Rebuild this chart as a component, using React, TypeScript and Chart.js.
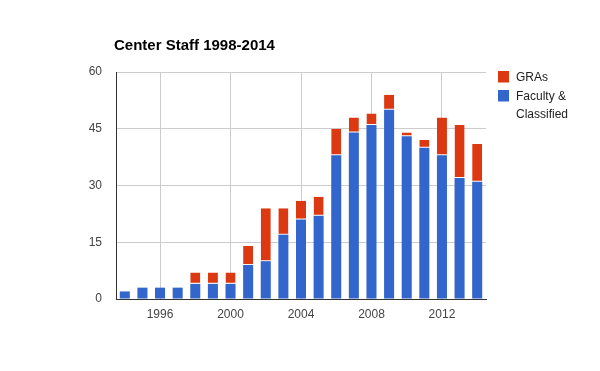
import React, { useEffect, useRef } from "react";
import { Chart, registerables } from "chart.js";

Chart.register(...registerables);

const years = [
  "1994", "1995", "1996", "1997", "1998", "1999", "2000", "2001", "2002", "2003", "2004",
  "2005", "2006", "2007", "2008", "2009", "2010", "2011", "2012", "2013", "2014",
];
const faculty = [2, 3, 3, 3, 4, 4, 4, 9, 10, 17, 21, 22, 38, 44, 46, 50, 43, 40, 38, 32, 31];
const gras = [0, 0, 0, 0, 3, 3, 3, 5, 14, 7, 5, 5, 7, 4, 3, 4, 1, 2, 10, 14, 10];
const shownYears = ["1996", "2000", "2004", "2008", "2012"];
const yTicks = [0, 15, 30, 45, 60];
const title = "Center Staff 1998-2014";
const legendItems = [
  { lines: ["GRAs"], color: "#dc3912" },
  { lines: ["Faculty &", "Classified"], color: "#3366cc" },
];

const FONT = '"Liberation Sans", Arial, sans-serif';

const overlayPlugin = {
  id: "overlay",
  afterDraw(chart: any) {
    const ctx = chart.ctx;
    ctx.save();
    ctx.fillStyle = "#000";
    ctx.font = `bold 15px ${FONT}`;
    ctx.textBaseline = "alphabetic";
    ctx.textAlign = "left";
    ctx.fillText(title, 114, 50);

    ctx.font = `12px ${FONT}`;
    let y = 71;
    legendItems.forEach((item) => {
      ctx.fillStyle = item.color;
      ctx.fillRect(498, y, 11, 11.5);
      ctx.fillStyle = "#222";
      item.lines.forEach((line, i) => {
        ctx.fillText(line, 516, y + 10.3 + i * 17.2);
      });
      y += 19;
    });
    ctx.restore();
  },
};

export default function App() {
  const ref = useRef<HTMLCanvasElement>(null);
  useEffect(() => {
    if (!ref.current) return;
    Chart.defaults.font.family = FONT;
    const chart = new Chart(ref.current, {
      type: "bar",
      data: {
        labels: years,
        datasets: [
          {
            label: "Faculty & Classified",
            data: faculty,
            backgroundColor: "#3366cc",
            borderWidth: 0,
            barPercentage: 0.57,
            categoryPercentage: 1,
          },
          {
            label: "GRAs",
            data: gras,
            backgroundColor: "#dc3912",
            borderColor: "#ffffff",
            borderWidth: { top: 0, left: 0, right: 0, bottom: 1 },
            borderSkipped: false,
            barPercentage: 0.57,
            categoryPercentage: 1,
          },
        ],
      },
      plugins: [overlayPlugin],
      options: {
        responsive: false,
        animation: false,
        events: [],
        layout: { padding: { top: 72, right: 114, left: 0, bottom: 0 } },
        plugins: {
          legend: { display: false },
          title: { display: false },
          tooltip: { enabled: false },
        },
        scales: {
          x: {
            stacked: true,
            offset: true,
            grid: {
              offset: false,
              drawTicks: false,
              color: (c: any) =>
                c.tick && shownYears.includes(years[c.index]) ? "#cccccc" : "rgba(0,0,0,0)",
            },
            border: { color: "#333333", width: 1 },
            ticks: {
              autoSkip: false,
              maxRotation: 0,
              minRotation: 0,
              padding: 8,
              color: "#444444",
              font: { size: 12, family: FONT },
              callback: (_v: any, i: number) => (shownYears.includes(years[i]) ? years[i] : ""),
            },
            afterFit: (s: any) => {
              s.height = 72;
            },
          },
          y: {
            stacked: true,
            min: yTicks[0],
            max: yTicks[yTicks.length - 1],
            grid: {
              drawTicks: false,
              color: (c: any) => (c.tick && c.tick.value === 0 ? "#333333" : "#cccccc"),
            },
            border: { color: "#333333", width: 1 },
            ticks: {
              stepSize: 15,
              padding: 14,
              color: "#444444",
              font: { size: 12, family: FONT },
            },
            afterFit: (s: any) => {
              s.width = 116;
            },
          },
        },
      },
    } as any);
    return () => chart.destroy();
  }, []);
  return (
    <div style={{ position: "absolute", left: 0, top: 0, width: 600, height: 371, background: "#fff" }}>
      <canvas ref={ref} width={600} height={371} style={{ width: 600, height: 371, display: "block" }} />
    </div>
  );
}
